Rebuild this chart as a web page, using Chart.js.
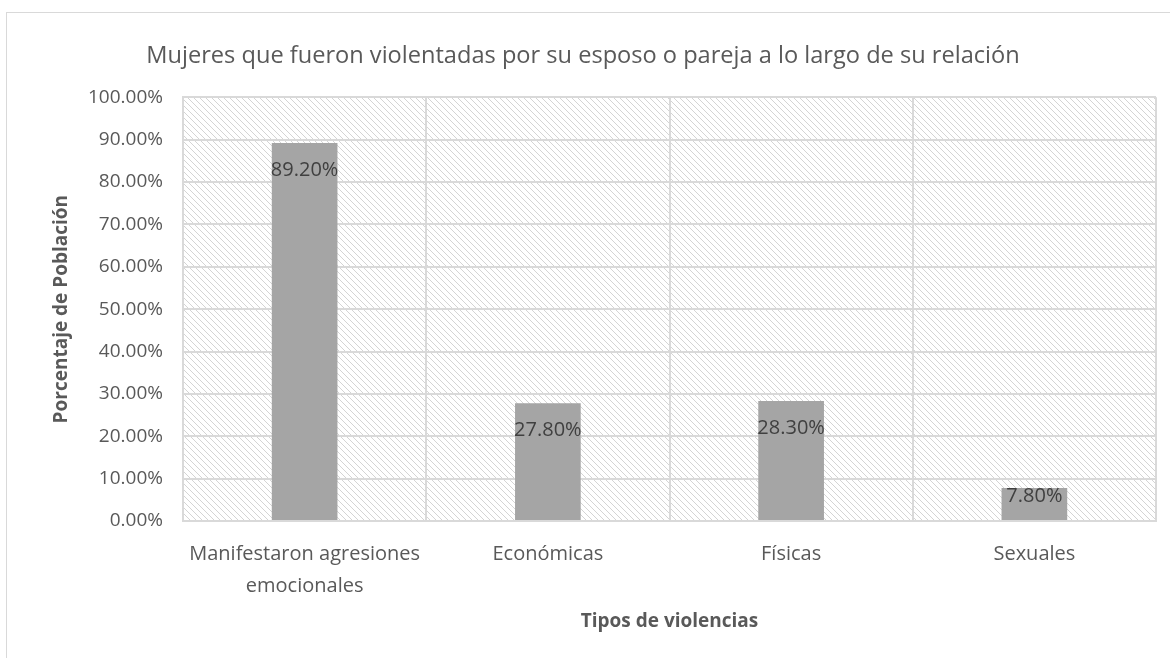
<!DOCTYPE html>
<html>
<head>
<meta charset="utf-8">
<script src="https://cdn.jsdelivr.net/npm/chart.js@4/dist/chart.umd.min.js"></script>
<style>
  html, body { margin: 0; padding: 0; background: #fff; }
  #wrap { position: absolute; left: 6px; top: 12px; width: 1170px; height: 660px;
          border: 1px solid #d9d9d9; box-sizing: border-box; }
  #c { position: absolute; left: 0; top: 0; }
</style>
</head>
<body>
<div id="wrap"></div>
<canvas id="c" width="1170" height="658"></canvas>
<script>
// datos del grafico
var categorias = [["Manifestaron agresiones", "emocionales"], "Económicas", "Físicas", "Sexuales"];
var porcentajes = [89.2, 27.8, 28.3, 7.8];
var etiquetas = ["89.20%", "27.80%", "28.30%", "7.80%"];

// patron rayado del area de trazado
var pc = document.createElement('canvas');
pc.width = 6; pc.height = 6;
var p = pc.getContext('2d');
p.fillStyle = '#ffffff';
p.fillRect(0, 0, 6, 6);
p.fillStyle = '#d4d4d4';
for (var i = 0; i < 6; i++) { p.fillRect(i, i, 1, 1); }
var ctx = document.getElementById('c').getContext('2d');
var rayado = ctx.createPattern(pc, 'repeat');

var fondoArea = {
    id: 'fondoArea',
    beforeDraw: function(chart) {
        var a = chart.chartArea, c = chart.ctx;
        c.save();
        c.fillStyle = rayado;
        c.fillRect(a.left, a.top, a.right - a.left, a.bottom - a.top);
        c.restore();
    }
};

var etiquetasBarras = {
    id: 'etiquetasBarras',
    afterDatasetsDraw: function(chart) {
        var c = chart.ctx;
        var meta = chart.getDatasetMeta(0);
        c.save();
        c.font = '20px "Open Sans"';
        c.fillStyle = '#404040';
        c.textAlign = 'center';
        c.textBaseline = 'middle';
        meta.data.forEach(function(bar, i) {
            var y = Math.min(bar.y + 27, bar.base - 24);
            c.fillText(etiquetas[i], bar.x, y);
        });
        c.restore();
    }
};

new Chart(ctx, {
    type: 'bar',
    data: {
        labels: categorias,
        datasets: [{
            data: porcentajes,
            backgroundColor: '#a5a5a5',
            barPercentage: 0.27,
            categoryPercentage: 1.0
        }]
    },
    options: {
        responsive: false,
        animation: false,
        layout: { padding: { left: 10, right: 14, top: 0, bottom: 25 } },
        plugins: {
            legend: { display: false },
            tooltip: { enabled: false },
            title: {
                display: true,
                text: 'Mujeres que fueron violentadas por su esposo o pareja a lo largo de su relación',
                color: '#595959',
                font: { family: 'Open Sans', size: 23.6, weight: 'normal' },
                padding: { top: 42, bottom: 27 }
            }
        },
        scales: {
            x: {
                afterFit: function(scale) { scale.height = 112; },
                grid: { color: '#d9d9d9', lineWidth: 2, offset: true, drawTicks: false },
                border: { color: '#d9d9d9', width: 2 },
                ticks: { color: '#595959', font: { family: 'Open Sans', size: 20, lineHeight: 1.6 }, padding: 17 },
                title: {
                    display: true, text: 'Tipos de violencias', color: '#595959',
                    font: { family: 'Open Sans', size: 19, weight: 'bold' }, padding: { top: 0, bottom: 0 }
                }
            },
            y: {
                min: 0, max: 100,
                afterFit: function(scale) { scale.width = 173; },
                grid: { color: '#d9d9d9', lineWidth: 2, drawTicks: false },
                border: { color: '#d9d9d9', width: 2 },
                ticks: {
                    stepSize: 10, color: '#595959', padding: 20,
                    font: { family: 'Open Sans', size: 19 },
                    callback: function(v) { return v.toFixed(2) + '%'; }
                },
                title: {
                    display: true, text: 'Porcentaje de Población', color: '#595959',
                    font: { family: 'Open Sans', size: 19, weight: 'bold' }, padding: { top: 40, bottom: 14 }
                }
            }
        }
    },
    plugins: [fondoArea, etiquetasBarras]
});
</script>
</body>
</html>
